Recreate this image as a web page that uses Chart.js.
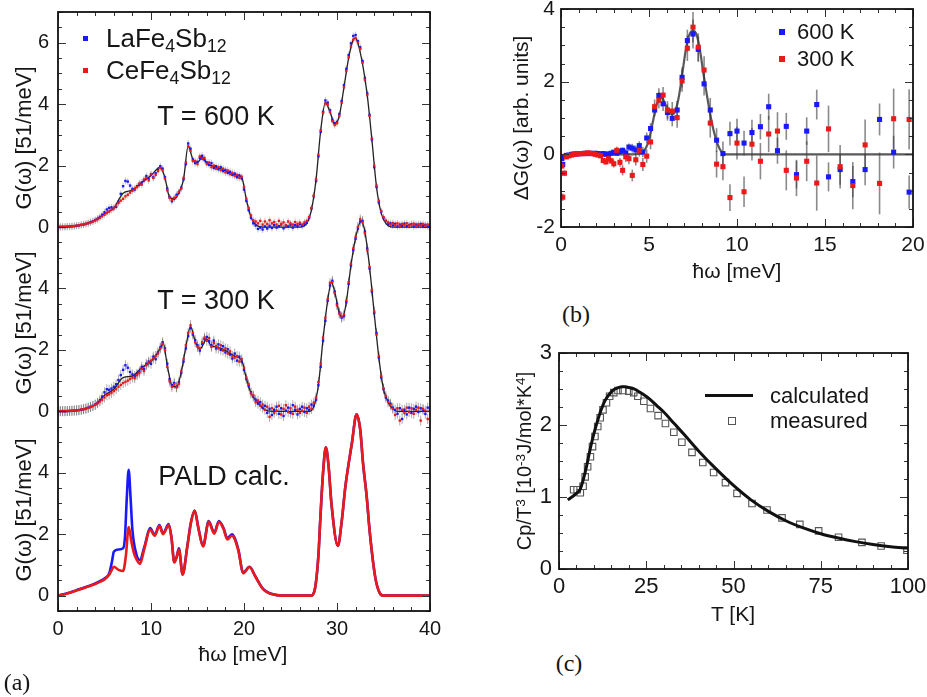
<!DOCTYPE html>
<html><head><meta charset="utf-8">
<script src="https://cdn.jsdelivr.net/npm/chart.js@4.4.0/dist/chart.umd.min.js"></script>
<style>
html,body{margin:0;padding:0;background:#fff}
body{width:927px;height:697px;position:relative;overflow:hidden;font-family:"Liberation Sans",Arial,sans-serif;color:#161616}
canvas{position:absolute}
.t{position:absolute;white-space:nowrap;line-height:1}
.rot{transform:translate(-50%,-50%) rotate(-90deg)}
.cc{transform:translate(-50%,-50%)}
.lv{transform:translateY(-50%)}
.t sub{font-size:0.68em;vertical-align:-0.28em;line-height:0}
.t sup{font-size:0.68em;vertical-align:0.45em;line-height:0}
.sq{position:absolute}
.serif{font-family:"Liberation Serif","Times New Roman",serif}
</style></head>
<body>
<canvas id="ca" width="450" height="697" style="left:0;top:0"></canvas>
<canvas id="cb" width="457" height="310" style="left:470px;top:-10px"></canvas>
<canvas id="cc" width="457" height="300" style="left:470px;top:330px"></canvas>

<!-- panel (a) texts -->
<div class="t rot" style="left:24px;top:138px;font-size:22px">G(ω) [51/meV]</div>
<div class="t rot" style="left:24px;top:323px;font-size:22px">G(ω) [51/meV]</div>
<div class="t rot" style="left:24px;top:510px;font-size:22px">G(ω) [51/meV]</div>
<div class="sq" style="left:83px;top:36px;width:5px;height:5px;background:rgb(25,25,250)"></div>
<div class="t lv" style="left:106px;top:38px;font-size:26px">LaFe<sub>4</sub>Sb<sub>12</sub></div>
<div class="sq" style="left:83px;top:68px;width:5px;height:5px;background:rgb(235,25,25)"></div>
<div class="t lv" style="left:106px;top:70px;font-size:26px">CeFe<sub>4</sub>Sb<sub>12</sub></div>
<div class="t cc" style="left:216px;top:116px;font-size:27px">T = 600 K</div>
<div class="t cc" style="left:216px;top:300px;font-size:27px">T = 300 K</div>
<div class="t cc" style="left:224px;top:476px;font-size:27px">PALD calc.</div>
<div class="t cc" style="left:243px;top:653px;font-size:21px">ħω [meV]</div>
<div class="t cc serif" style="left:17px;top:682px;font-size:24px">(a)</div>

<!-- panel (b) texts -->
<div class="t rot" style="left:520px;top:118px;font-size:21px">ΔG(ω) [arb. units]</div>
<div class="t cc" style="left:737px;top:270px;font-size:21px">ħω [meV]</div>
<div class="sq" style="left:779px;top:29px;width:6px;height:6px;background:rgb(25,25,250)"></div>
<div class="t lv" style="left:797px;top:32px;font-size:22px">600 K</div>
<div class="sq" style="left:779px;top:56px;width:6px;height:6px;background:rgb(235,25,25)"></div>
<div class="t lv" style="left:797px;top:59px;font-size:22px">300 K</div>
<div class="t cc serif" style="left:576px;top:314px;font-size:24px">(b)</div>

<!-- panel (c) texts -->
<div class="t rot" style="left:524px;top:461px;font-size:20px">Cp/T<sup>3</sup> [10<sup>-3</sup>J/mol*K<sup>4</sup>]</div>
<div class="t cc" style="left:733px;top:613px;font-size:21px">T [K]</div>
<div class="sq" style="left:705px;top:394px;width:48px;height:3px;background:#111"></div>
<div class="t lv" style="left:770px;top:396px;font-size:22px">calculated</div>
<div class="sq" style="left:728px;top:417px;width:6px;height:6px;border:1px solid #555;box-sizing:content-box"></div>
<div class="t lv" style="left:770px;top:421px;font-size:22px">measured</div>
<div class="t cc serif" style="left:569px;top:663px;font-size:24px">(c)</div>

<script>
// ---------- panel (a) data ----------
const aE = [0,0.25,0.5,0.75,1,1.25,1.5,1.75,2,2.25,2.5,2.75,3,3.25,3.5,3.75,4,4.25,4.5,4.75,
5,5.25,5.5,5.75,6,6.25,6.5,6.75,7,7.25,7.5,7.75,8,8.25,8.5,8.75,9,9.25,9.5,9.75,
10,10.25,10.5,10.75,11,11.25,11.5,11.75,12,12.25,12.5,12.75,13,13.25,13.5,13.75,14,14.25,14.5,14.75,
15,15.25,15.5,15.75,16,16.25,16.5,16.75,17,17.25,17.5,17.75,18,18.25,18.5,18.75,19,19.25,19.5,19.75,
20,20.25,20.5,20.75,21,21.25,21.5,21.75,22,22.25,22.5,22.75,23,23.25,23.5,23.75,24,24.25,24.5,24.75,
25,25.25,25.5,25.75,26,26.25,26.5,26.75,27,27.25,27.5,27.75,28,28.25,28.5,28.75,29,29.25,29.5,29.75,
30,30.25,30.5,30.75,31,31.25,31.5,31.75,32,32.25,32.5,32.75,33,33.25,33.5,33.75,34,34.25,34.5,34.75,
35,35.25,35.5,35.75,36,36.25,36.5,36.75,37,37.25,37.5,37.75,38,38.25,38.5,38.75,39,39.25,39.5,39.75,40];

const la600 = [0.00,0.00,0.01,0.00,0.01,0.02,0.02,0.03,0.04,0.05,0.07,0.08,0.10,0.13,0.16,0.19,0.23,0.27,0.33,0.40,
0.48,0.57,0.62,0.64,0.61,0.66,0.82,1.08,1.33,1.50,1.48,1.35,1.24,1.22,1.33,1.38,1.45,1.52,1.66,1.58,
1.70,1.62,1.75,1.86,1.98,1.90,1.62,1.25,0.98,0.84,0.92,1.05,1.12,1.28,1.55,2.05,2.72,2.55,2.20,2.08,
2.12,2.25,2.32,2.18,2.10,2.02,2.08,1.92,1.98,1.88,1.95,1.82,1.86,1.76,1.80,1.70,1.74,1.62,1.68,1.58,
1.22,0.85,0.55,0.30,0.12,0.05,-0.06,-0.02,-0.08,0.02,-0.05,0.04,-0.03,0.06,-0.02,0.03,0.08,-0.04,0.05,0.02,
0.07,-0.02,0.06,0.03,0.09,0.04,0.10,0.14,0.30,0.60,1.00,1.50,2.30,3.10,3.75,4.12,4.05,3.80,3.50,3.38,
3.42,3.68,4.10,4.62,5.15,5.60,5.98,6.22,6.25,6.05,5.85,5.40,4.85,4.35,3.65,2.85,1.95,1.30,0.80,0.50,
0.30,0.20,0.10,0.12,0.05,0.10,0.02,0.08,0.04,0.11,0.03,0.07,0.09,0.02,0.08,0.05,0.10,0.03,0.07,0.02,0.05];

const ce600 = [0.00,0.01,0.00,0.01,0.02,0.01,0.03,0.03,0.05,0.05,0.07,0.09,0.11,0.12,0.15,0.18,0.21,0.25,0.30,0.35,
0.40,0.45,0.50,0.56,0.62,0.70,0.78,0.86,0.92,1.00,1.05,1.12,1.18,1.25,1.30,1.42,1.38,1.55,1.60,1.52,
1.72,1.60,1.70,1.82,1.92,1.85,1.58,1.20,0.95,0.88,0.95,1.00,1.15,1.25,1.60,2.10,2.62,2.48,2.15,2.15,
2.05,2.30,2.22,2.25,2.05,2.10,1.95,2.00,1.90,1.95,1.85,1.90,1.78,1.84,1.72,1.76,1.66,1.70,1.60,1.64,
1.30,0.92,0.62,0.38,0.22,0.18,0.12,0.20,0.08,0.18,0.10,0.22,0.12,0.16,0.08,0.20,0.10,0.15,0.06,0.18,
0.12,0.08,0.16,0.10,0.14,0.08,0.15,0.20,0.32,0.62,1.02,1.55,2.35,3.15,3.72,4.02,3.98,3.75,3.45,3.32,
3.38,3.62,4.05,4.55,5.08,5.52,5.88,6.10,6.15,6.00,5.80,5.35,4.80,4.30,3.62,2.88,2.00,1.35,0.85,0.52,
0.32,0.20,0.15,0.08,0.13,0.06,0.12,0.04,0.10,0.06,0.12,0.05,0.08,0.11,0.04,0.09,0.05,0.10,0.04,0.08,-0.05];

const la300 = [0.00,0.00,0.01,0.00,0.01,0.01,0.02,0.02,0.03,0.04,0.05,0.07,0.09,0.12,0.15,0.18,0.22,0.28,0.36,0.48,
0.62,0.72,0.70,0.74,0.80,0.88,1.02,1.18,1.35,1.50,1.42,1.28,1.20,1.15,1.22,1.30,1.45,1.38,1.55,1.62,
1.55,1.78,1.70,1.92,2.08,2.25,2.05,1.55,1.05,0.85,0.92,0.80,0.95,1.25,1.62,2.05,2.45,2.72,2.50,2.32,
2.15,1.98,2.20,2.35,2.42,2.28,2.15,2.30,2.05,2.18,2.00,2.12,1.92,2.02,1.85,1.72,1.88,1.65,1.78,1.62,
1.35,1.05,0.82,0.62,0.48,0.38,0.25,0.30,0.12,0.18,-0.05,0.08,-0.12,0.05,0.15,-0.08,0.10,-0.15,0.02,0.12,
-0.05,0.20,0.05,-0.10,0.08,0.15,-0.02,0.10,0.05,0.22,0.18,0.38,0.85,1.45,2.30,2.95,3.60,4.10,4.25,3.90,
3.50,3.22,3.05,3.10,3.55,4.15,4.75,5.25,5.62,5.95,6.18,6.20,5.85,5.30,4.65,3.90,3.20,2.55,1.75,1.10,
0.72,0.45,0.35,0.25,0.12,0.05,-0.08,0.10,-0.25,0.05,-0.10,0.12,-0.05,0.08,0.15,-0.02,0.10,0.05,-0.08,0.12,0.02];

const ce300 = [0.00,0.01,0.00,0.01,0.01,0.02,0.02,0.03,0.03,0.04,0.06,0.07,0.09,0.11,0.14,0.17,0.21,0.26,0.32,0.38,
0.45,0.52,0.55,0.60,0.66,0.72,0.80,0.86,0.92,0.96,1.00,1.05,1.10,1.08,1.18,1.25,1.38,1.32,1.50,1.58,
1.65,1.72,1.80,1.88,2.05,2.20,2.00,1.45,0.98,0.80,0.88,0.78,0.90,1.30,1.70,2.15,2.55,2.80,2.55,2.25,
2.10,2.05,2.25,2.40,2.30,2.38,2.10,2.22,2.12,2.05,2.15,1.98,2.05,1.88,1.95,1.80,1.75,1.80,1.62,1.70,
1.42,1.10,0.88,0.58,0.52,0.30,0.35,0.18,0.22,0.05,0.15,-0.18,0.10,-0.05,0.02,0.18,-0.10,0.08,0.20,-0.02,
0.10,-0.08,0.15,0.05,-0.05,0.02,0.12,-0.05,0.15,0.08,0.28,0.45,0.95,1.55,2.40,3.05,3.65,4.18,4.20,3.85,
3.45,3.18,3.08,3.15,3.60,4.20,4.80,5.30,5.68,6.00,6.25,6.15,5.80,5.25,4.70,3.95,3.25,2.50,1.80,1.15,
0.75,0.50,0.30,0.20,0.08,-0.12,0.10,-0.30,0.05,-0.05,0.12,-0.02,0.10,-0.08,0.05,0.12,-0.30,0.08,0.02,-0.25,0.05];

const fit600E = [0,2,4,5,6,7,8,9,10,11,11.5,12,12.5,13,13.5,14,14.5,15,15.5,16,17,18,19,19.75,20.25,20.75,21.25,22,26,26.75,
27.25,27.75,28.25,28.75,29.25,29.75,30.25,30.75,31.25,31.75,32,32.25,32.75,33.25,33.75,34.25,34.75,35.25,36,40];
const fit600 = [0,0.04,0.22,0.44,0.62,1.1,1.2,1.45,1.68,1.95,1.6,0.97,0.92,1.12,1.55,2.65,2.2,2.1,2.27,2.08,1.95,1.83,1.7,1.62,0.9,0.32,0.08,0,0,0.12,
0.55,1.55,3.15,4.05,3.75,3.35,3.62,4.55,5.5,6.1,6.15,5.98,5.3,4.3,2.85,1.3,0.45,0.12,0,0];

const fit300E = [0,2,4,5,6,7,8,9,10,11,11.3,11.75,12.25,12.75,13.25,13.75,14.25,14.75,15.25,16,16.5,17,18,19,19.75,20.25,20.75,21.5,22.25,23,
27,27.5,28,28.5,29,29.4,29.75,30.25,30.6,31,31.5,32,32.6,33,33.5,34,34.5,35,35.5,36,36.5,40];
const fit300 = [0,0.03,0.21,0.52,0.72,1.1,1.15,1.42,1.62,2.05,2.22,1.5,0.83,0.8,1.27,2.1,2.75,2.28,2.02,2.35,2.12,2.1,1.98,1.8,1.66,1.08,0.6,0.28,0.05,0,
0,0.15,0.85,2.35,3.62,4.2,3.9,3.2,3.05,3.55,4.75,5.65,6.2,5.85,4.7,3.2,1.75,0.72,0.3,0.08,0,0];

const paldLaE = [0,1,2,3,4,4.5,5,5.5,5.8,6.0,6.5,7.0,7.2,7.4,7.6,7.8,8.0,8.4,8.8,9.3,9.9,10.4,10.9,11.3,11.9,12.2,12.5,12.75,13.0,13.4,
13.9,14.3,14.7,15.1,15.6,16.2,16.8,17.3,17.8,18.2,18.7,19.4,19.9,20.6,21.2,22,22.5,23,24,27.2,
27.6,28.0,28.2,28.5,28.8,29.1,29.4,30.1,30.5,30.9,31.6,32.1,32.5,32.8,33.2,33.5,34.1,34.6,35,40];
const paldLa = [0,0.08,0.18,0.28,0.4,0.47,0.56,0.72,1.1,1.43,1.5,1.54,1.9,3.2,4.1,3.2,2.14,1.38,1.16,1.6,2.2,1.98,2.3,2.03,2.33,1.9,1.1,1.25,1.54,0.7,
1.6,2.4,2.77,2.2,1.62,2.43,2.05,2.43,2.2,1.87,2.0,1.49,0.75,0.94,0.64,0.24,0.12,0.05,0,0,
0.18,1.3,2.46,4.0,4.83,4.2,3.0,1.62,2.4,3.55,4.96,5.9,5.4,4.31,3.2,2.14,0.62,0.08,0,0];

const paldCeE = [0,1,2,3,4,4.5,5,5.5,5.8,6.0,6.5,7.0,7.3,7.6,7.9,8.2,8.5,8.8,9.3,9.9,10.4,10.9,11.3,11.9,12.2,12.5,12.75,13.0,13.4,13.9,
14.3,14.7,15.1,15.6,16.2,16.8,17.3,17.8,18.2,18.7,19.4,19.9,20.6,21.2,22,22.5,23,24,27.2,27.6,
28.0,28.2,28.5,28.8,29.1,29.4,30.1,30.5,30.9,31.6,32.1,32.5,32.8,33.2,33.5,34.1,34.6,35,40];
const paldCe = [0,0.07,0.17,0.27,0.38,0.45,0.53,0.68,0.85,0.94,0.84,0.8,1.3,2.23,1.75,1.35,1.15,1.03,1.55,2.15,1.95,2.27,2.0,2.3,1.88,1.08,1.25,1.5,0.68,1.58,
2.38,2.75,2.18,1.6,2.4,2.02,2.4,2.17,1.83,1.95,1.46,0.73,0.93,0.63,0.23,0.11,0.05,0,0,0.18,
1.3,2.46,4.0,4.83,4.2,3.0,1.62,2.4,3.55,4.96,5.9,5.4,4.31,3.2,2.14,0.62,0.08,0,0];

// vertical offsets of the three stacked sub-panels
const offPald = 0, off300 = 6, off600 = 12;
const aXTicks = [0,10,20,30,40];
const aYTickVals = [0,2,4,6,8,10,12,14,16,18];
const aYTickLabels = ['0','2','4','0','2','4','0','2','4','6'];

// ---------- panel (b) data ----------
const bE = [0.05,0.1,0.2,0.3,0.45,0.6,0.75,0.9,1.05,1.2,1.35,1.5,1.65,1.8,1.95,2.1,2.25,2.4,2.55,2.7,
2.85,3.0,3.17,3.35,3.5,3.68,3.86,4.05,4.25,4.45,4.65,4.87,5.09,5.32,5.56,5.8,6.05,6.32,6.6,6.88,
7.18,7.5,7.8,8.13,8.48,8.84,9.2,9.6,10.0,10.4,10.85,11.33,11.8,12.3,12.8,13.38,13.96,14.53,15.2,15.86,
16.58,17.28,18.1,18.9,19.78];
const b600 = [-0.12,-0.28,-0.06,-0.03,-0.02,0.0,0.01,0.01,0.02,0.02,0.03,0.02,0.03,0.02,0.03,0.02,0.01,0.02,0.0,0.01,
0.03,0.06,0.03,0.08,0.11,0.04,0.2,0.17,0.12,0.24,0.06,0.45,0.71,1.22,1.62,1.39,1.15,0.99,1.22,2.12,
3.13,3.31,2.89,1.94,1.22,0.39,0.02,0.57,0.64,0.31,0.6,0.76,1.31,0.1,0.77,-0.56,0.64,1.37,-0.62,-0.42,
-0.75,-0.42,0.96,0.06,-1.04];
const b600Err = [0.05,0.05,0.04,0.03,0.03,0.03,0.03,0.03,0.03,0.03,0.03,0.03,0.03,0.03,0.04,0.04,0.04,0.04,0.05,0.05,
0.05,0.06,0.06,0.08,0.08,0.1,0.1,0.12,0.12,0.12,0.14,0.15,0.15,0.18,0.2,0.2,0.22,0.22,0.25,0.28,
0.3,0.4,0.35,0.32,0.33,0.33,0.33,0.33,0.34,0.34,0.35,0.35,0.36,0.36,0.37,0.38,0.38,0.41,0.4,0.42,
0.43,0.43,0.44,0.45,0.46];
const b300 = [-0.32,-1.18,-0.52,-0.07,-0.04,-0.02,0.0,0.01,0.02,0.02,0.02,0.04,0.03,0.02,0.0,-0.02,-0.04,-0.17,-0.21,-0.12,
-0.18,-0.26,0.11,-0.22,-0.44,-0.07,-0.12,-0.58,-0.15,0.11,-0.28,-0.05,0.34,1.31,1.49,1.63,1.22,1.19,1.01,2.02,
2.92,3.5,2.95,2.32,0.86,-0.27,-0.34,-1.19,0.31,-1.03,0.28,-0.19,0.56,0.64,-0.44,-0.65,-0.19,-0.79,0.7,-0.34,
-0.86,0.26,-0.8,0.98,0.96];
const b300Err = [0.08,0.1,0.08,0.04,0.03,0.03,0.03,0.03,0.03,0.03,0.03,0.03,0.03,0.03,0.04,0.04,0.05,0.06,0.06,0.07,
0.08,0.1,0.1,0.12,0.14,0.14,0.15,0.16,0.16,0.17,0.18,0.18,0.2,0.2,0.22,0.22,0.24,0.25,0.28,0.3,
0.35,0.42,0.38,0.38,0.4,0.37,0.37,0.37,0.45,0.42,0.45,0.5,0.5,0.52,0.55,0.5,0.55,0.76,0.64,0.6,
0.65,0.7,0.85,0.83,0.83];
const bFitE = [0.15,0.5,1,2,3,4,4.5,4.8,5.0,5.2,5.4,5.6,5.75,5.9,6.1,6.3,6.5,6.7,6.9,7.1,7.3,7.5,7.7,7.9,8.1,8.3,8.5,8.7,8.9,9.1,9.4,10,20];
const bFit = [-0.05,-0.02,0,0,0,0,0.02,0.15,0.4,0.85,1.3,1.55,1.55,1.4,1.2,1.1,1.2,1.6,2.25,2.9,3.3,3.4,3.3,2.85,2.2,1.6,1.05,0.6,0.28,0.08,0,0,0];
const bXTicks = [0,5,10,15,20];
const bYTicks = [-2,0,2,4];
const bYTickLabels = ['-2','0','2','4'];

// ---------- panel (c) data ----------
const cCalcT = [2.5,4,5,6,7,8,9,10,11,12,13,14,15,16,17,18,19,20,21,22,24,26,28,30,33,36,40,45,50,55,60,65,70,75,80,85,90,95,100];
const cCalc = [0.96,1.01,1.05,1.1,1.25,1.45,1.68,1.88,2.05,2.2,2.32,2.4,2.46,2.5,2.52,2.53,2.53,2.52,2.51,2.49,2.43,2.36,2.27,2.18,2.02,1.86,1.64,1.39,1.16,0.96,0.8,0.67,0.57,0.49,0.43,0.38,0.34,0.31,0.29];
const cMeasT = [4.2,5.2,6.1,6.9,7.5,8.2,9,9.6,10.3,11.1,11.8,12.6,13.6,14.5,15.7,16.9,18.3,20,21.4,22.6,24.3,26.2,28.4,30.5,32.9,35.2,38.1,41.2,44.3,47.7,51,55.3,59.6,63.9,69,74.4,80.1,86.8,92.3,99.7];
const cMeas = [1.1,1.1,1.06,1.15,1.28,1.42,1.56,1.7,1.84,1.98,2.1,2.21,2.31,2.4,2.45,2.48,2.48,2.47,2.45,2.4,2.33,2.23,2.13,2.02,1.9,1.76,1.62,1.48,1.34,1.2,1.05,0.91,0.82,0.71,0.62,0.53,0.44,0.37,0.32,0.26];
const cXTicks = [0,25,50,75,100];
const cYTicks = [0,1,2,3];

// ---------- helpers ----------
const FONT = "'Liberation Sans', Arial, sans-serif";
const BLUE = 'rgb(25,25,250)', RED = 'rgb(235,25,25)';
const pts = (xs, ys, off) => xs.map((x, i) => ({x: x, y: ys[i] + (off || 0)}));

const frameTicks = {
  id: 'frameTicks',
  afterDatasetsDraw(chart, args, o) {
    const {ctx, chartArea: a, scales: {x, y}} = chart;
    ctx.save();
    ctx.strokeStyle = '#333';
    ctx.lineWidth = 1;
    const steps = (s, st) => { const r = []; for (let v = Math.ceil(s.min / st - 1e-9) * st; v <= s.max + 1e-9; v += st) r.push(v); return r; };
    const tx = (vals, len) => vals.forEach(v => { const p = Math.round(x.getPixelForValue(v)) + 0.5; ctx.beginPath(); ctx.moveTo(p, a.bottom); ctx.lineTo(p, a.bottom - len); ctx.moveTo(p, a.top); ctx.lineTo(p, a.top + len); ctx.stroke(); });
    const ty = (vals, len) => vals.forEach(v => { const p = Math.round(y.getPixelForValue(v)) + 0.5; ctx.beginPath(); ctx.moveTo(a.left, p); ctx.lineTo(a.left + len, p); ctx.moveTo(a.right, p); ctx.lineTo(a.right - len, p); ctx.stroke(); });
    tx(steps(x, o.xStep), o.minor); tx(o.xMajor, o.major);
    ty(steps(y, o.yStep), o.minor); ty(o.yMajor, o.major);
    ctx.strokeStyle = '#111';
    ctx.lineWidth = o.lw;
    ctx.strokeRect(a.left, a.top, a.right - a.left, a.bottom - a.top);
    ctx.restore();
  }
};

const errBars = {
  id: 'errBars',
  beforeDatasetsDraw(chart) {
    const {ctx, chartArea: a, scales: {x, y}} = chart;
    ctx.save();
    ctx.beginPath(); ctx.rect(a.left, a.top, a.right - a.left, a.bottom - a.top); ctx.clip();
    chart.data.datasets.forEach(ds => {
      if (!ds.err) return;
      ctx.strokeStyle = ds.errColor; ctx.lineWidth = ds.errWidth;
      ds.data.forEach((p, i) => {
        const e = ds.err[i];
        const px = x.getPixelForValue(p.x);
        ctx.beginPath(); ctx.moveTo(px, y.getPixelForValue(p.y - e)); ctx.lineTo(px, y.getPixelForValue(p.y + e)); ctx.stroke();
      });
    });
    ctx.restore();
  }
};

function axisX(min, max, ticks, h, pad, size, labels) {
  return {
    type: 'linear', min: min, max: max,
    grid: {display: false, drawTicks: false}, border: {display: false},
    afterBuildTicks: s => { s.ticks = ticks.map(v => ({value: v})); },
    afterFit: s => { s.height = h; s.paddingLeft = 0; s.paddingRight = 0; },
    ticks: {font: {family: FONT, size: size}, color: '#161616', padding: pad, maxRotation: 0, autoSkip: false,
      callback: (v, i) => labels ? labels[i] : String(v)}
  };
}
function axisY(min, max, ticks, w, pad, size, labels) {
  return {
    type: 'linear', min: min, max: max,
    grid: {display: false, drawTicks: false}, border: {display: false},
    afterBuildTicks: s => { s.ticks = ticks.map(v => ({value: v})); },
    afterFit: s => { s.width = w; s.paddingTop = 0; s.paddingBottom = 0; },
    ticks: {font: {family: FONT, size: size}, color: '#161616', padding: pad, autoSkip: false,
      callback: (v, i) => labels ? labels[i] : String(v)}
  };
}
const baseOpts = {responsive: false, animation: false, events: [],
  plugins: {legend: {display: false}, tooltip: {enabled: false}}};

const dots = (data, color, order) => ({data: data, showLine: false, pointStyle: 'rect', pointRadius: 1.7,
  backgroundColor: color, borderWidth: 0, order: order});
const ebar = (data, r, color) => ({data: data, showLine: false, pointStyle: 'line', rotation: 90, pointRadius: r,
  borderColor: color, borderWidth: 1, backgroundColor: color, order: 20});
const curve = (data, color, w, order) => ({data: data, showLine: true, pointRadius: 0, borderColor: color, borderWidth: w,
  cubicInterpolationMode: 'monotone', fill: false, order: order});

// ---------- chart (a) ----------
new Chart(document.getElementById('ca'), {
  type: 'scatter',
  data: {datasets: [
    ebar(pts(aE, la600, off600), 3.5, 'rgba(90,90,90,0.35)'),
    ebar(pts(aE, ce600, off600), 3.5, 'rgba(90,90,90,0.35)'),
    ebar(pts(aE, la300, off300), 5, 'rgba(70,70,70,0.45)'),
    ebar(pts(aE, ce300, off300), 5, 'rgba(70,70,70,0.45)'),
    curve(pts(fit600E, fit600, off600), '#222', 1.3, 6),
    curve(pts(fit300E, fit300, off300), '#222', 1.3, 6),
    dots(pts(aE, la600, off600), BLUE, 3),
    dots(pts(aE, ce600, off600), RED, 2),
    dots(pts(aE, la300, off300), BLUE, 3),
    dots(pts(aE, ce300, off300), RED, 2),
    curve(pts(paldLaE, paldLa, offPald), BLUE, 2.6, 8),
    curve(pts(paldCeE, paldCe, offPald), RED, 2.6, 7)
  ]},
  options: Object.assign({}, baseOpts, {
    layout: {padding: {left: 0, right: 20, top: 12, bottom: 46}},
    plugins: Object.assign({}, baseOpts.plugins, {frameTicks: {xMajor: aXTicks, xStep: 2, yMajor: aYTickVals, yStep: 0.5, major: 8, minor: 4, lw: 1.8}}),
    scales: {
      x: axisX(0, 40, aXTicks, 40, 6, 20),
      y: axisY(-0.5, 19, aYTickVals, 58, 9, 20, aYTickLabels)
    }
  }),
  plugins: [frameTicks]
});

// ---------- chart (b) ----------
new Chart(document.getElementById('cb'), {
  type: 'scatter',
  data: {datasets: [
    curve(pts(bFitE, bFit), 'rgba(60,60,60,0.85)', 2.2, 5),
    {data: pts(bE, b600), err: b600Err, errColor: 'rgba(60,60,60,0.6)', errWidth: 1.6,
      showLine: false, pointStyle: 'rect', pointRadius: 3.6, backgroundColor: BLUE, borderWidth: 0, order: 2},
    {data: pts(bE, b300), err: b300Err, errColor: 'rgba(60,60,60,0.6)', errWidth: 1.6,
      showLine: false, pointStyle: 'rect', pointRadius: 3.6, backgroundColor: RED, borderWidth: 0, order: 1}
  ]},
  options: Object.assign({}, baseOpts, {
    layout: {padding: {left: 0, right: 14, top: 19, bottom: 38}},
    plugins: Object.assign({}, baseOpts.plugins, {frameTicks: {xMajor: bXTicks, xStep: 1, yMajor: bYTicks, yStep: 0.5, major: 8, minor: 4, lw: 1.8}}),
    scales: {
      x: axisX(0, 20, bXTicks, 35, 6, 21),
      y: axisY(-2, 4, bYTicks, 91, 6, 21, bYTickLabels)
    }
  }),
  plugins: [errBars, frameTicks]
});

// ---------- chart (c) ----------
new Chart(document.getElementById('cc'), {
  type: 'scatter',
  data: {datasets: [
    curve(pts(cCalcT, cCalc), '#111', 3, 1),
    {data: pts(cMeasT, cMeas), showLine: false, pointStyle: 'rect', pointRadius: 4.6, borderColor: '#555',
      backgroundColor: 'rgba(255,255,255,0)', borderWidth: 1.1, order: 2}
  ]},
  options: Object.assign({}, baseOpts, {
    layout: {padding: {left: 0, right: 19, top: 23, bottom: 26}},
    plugins: Object.assign({}, baseOpts.plugins, {frameTicks: {xMajor: cXTicks, xStep: 5, yMajor: cYTicks, yStep: 0.25, major: 8, minor: 4, lw: 1.8}}),
    scales: {
      x: axisX(0, 100, cXTicks, 35, 5, 22),
      y: axisY(0, 3, cYTicks, 89, 7, 22)
    }
  }),
  plugins: [frameTicks]
});
</script>
</body></html>
